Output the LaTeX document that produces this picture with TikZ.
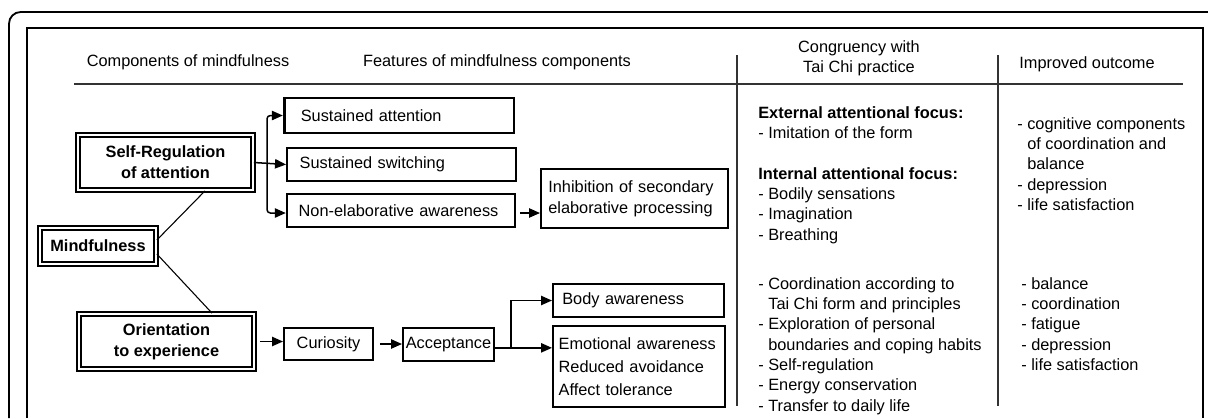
\documentclass[tikz,border=0pt]{standalone}
\usepackage{fontspec}
\setmainfont{Liberation Sans}
\usetikzlibrary{arrows.meta}

\tikzset{
  every node/.style={font=\fontsize{9.8}{12.2}\selectfont},
  compbox/.style={draw, double, line width=1.05pt, double distance=1.2pt,
    align=center, inner sep=0pt, font=\fontsize{9.8}{12.6}\selectfont\bfseries},
  featbox/.style={draw, line width=1.4pt, align=left, inner ysep=0pt},
  plainbox/.style={draw, line width=1pt, align=left, inner ysep=0pt},
  link/.style={line width=0.9pt, ->, >={Triangle[length=6.6pt,width=5.6pt]}},
  rule/.style={line width=0.75pt, black!80},
  listtext/.style={anchor=north west, inner sep=0pt, align=left},
}

\begin{document}
\begin{tikzpicture}[x=0.6pt,y=-0.6pt]
  \useasboundingbox (0,0) rectangle (1208,418);
  % frames and table rules
  \draw[line width=1.1pt,rounded corners=7pt] (9,418) -- (9,12) -- (1208,12);
  \draw[line width=0.9pt] (27,418) -- (27,28) -- (1203,28) -- (1203,418);
  \draw[rule] (74,84) -- (1183,84);
  \draw[rule] (737,55) -- (737,406);
  \draw[rule] (998,55) -- (998,406);

  % headings
  \node (hcomp) at (188,62) {Components of mindfulness};
  \node (hfeat) at (497,62) {Features of mindfulness components};
  \node[align=center] (htai) at (859,58) {Congruency with\\Tai Chi practice};
  \node (hout) at (1087,64) {Improved outcome};

  % components of mindfulness
  \node[compbox, minimum width=105pt, minimum height=33pt] (selfreg)
    at (165.5,162.5) {Self-Regulation\\of attention};
  \node[compbox, minimum width=69.6pt, minimum height=21.6pt] (mind)
    at (98,246) {Mindfulness};
  \node[compbox, minimum width=105pt, minimum height=33pt] (orient)
    at (166.5,341.5) {Orientation\\to experience};
  \draw[line width=0.65pt] ([yshift=3.6pt]mind.east) -- ([xshift=23.7pt]selfreg.south);
  \draw[line width=0.65pt] ([yshift=-4.8pt]mind.east) -- ([xshift=27.3pt]orient.north);

  % features
  \node[featbox, line width=1.6pt, inner xsep=10pt, text width=117.8pt, minimum height=21pt]
    (sattn) at (399,115.5) {Sustained attention};
  \node[featbox, inner xsep=7.5pt, text width=122.2pt, minimum height=19.8pt]
    (sswitch) at (401.5,164.5) {Sustained switching};
  \node[featbox, inner xsep=7pt, text width=122.8pt, minimum height=19.8pt]
    (nonelab) at (401,210.5) {Non-elaborative awareness};
  \node[plainbox, inner xsep=4.5pt, text width=103.4pt, minimum height=35.6pt,
    font=\fontsize{9.8}{12.6}\selectfont] (inhib) at (634.5,198.5)
    {Inhibition of secondary\\elaborative processing};

  \node[plainbox, align=center, inner xsep=0pt, minimum width=53.6pt, minimum height=19.4pt]
    (curio) at (328.5,344) {Curiosity};
  \node[featbox, align=center, inner xsep=0pt, minimum width=54.4pt, minimum height=19.6pt]
    (accept) at (448.5,344.5) {Acceptance};
  \node[featbox, inner xsep=5.5pt, text width=91.4pt, minimum height=19.6pt]
    (body) at (638.5,300.5) {Body awareness};
  \node[plainbox, inner xsep=3.5pt, text width=96.4pt, minimum height=48.8pt,
    font=\fontsize{9.8}{13.8}\selectfont] (emot) at (639,366.5)
    {Emotional awareness\\Reduced avoidance\\Affect tolerance};

  % arrows
  \coordinate (attfork) at (267,165);
  \coordinate (accfork) at (511,348);
  \draw[link] (selfreg.east) -- (sswitch.west);
  \draw[link, rounded corners=2pt] (attfork) |- (sattn.west);
  \draw[link, rounded corners=2pt] (attfork) |- ([yshift=-1.5pt]nonelab.west);
  \draw[link, shorten <=2.5pt] ([yshift=-1.5pt]nonelab.east) -- ([yshift=-1.5pt]nonelab.east -| inhib.west);
  \draw[link, shorten <=3pt] (orient.east) -- (orient.east -| curio.west);
  \draw[link, shorten <=3.5pt] (curio.east) -- (curio.east -| accept.west);
  \draw[link] ([yshift=-2pt]accept.east) -- ([yshift=-2pt]accept.east -| emot.west);
  \draw[link] (accfork) |- (body.west);

  % congruency with tai chi practice
  \node[listtext] (focus) at (758,106)
    {\textbf{External attentional focus:}\\- Imitation of the form\\[12.2pt]
     \textbf{Internal attentional focus:}\\- Bodily sensations\\- Imagination\\- Breathing};
  \node[listtext] (practice) at (758,277)
    {- Coordination according to\\\hphantom{- }Tai Chi form and principles\\
     - Exploration of personal\\\hphantom{- }boundaries and coping habits\\
     - Self-regulation\\- Energy conservation\\- Transfer to daily life};

  % improved outcome
  \node[listtext] (outatt) at (1017,117)
    {- cognitive components\\\hphantom{- }of coordination and\\\hphantom{- }balance\\
     - depression\\- life satisfaction};
  \node[listtext] (outexp) at (1021,277)
    {- balance\\- coordination\\- fatigue\\- depression\\- life satisfaction};
\end{tikzpicture}
\end{document}
